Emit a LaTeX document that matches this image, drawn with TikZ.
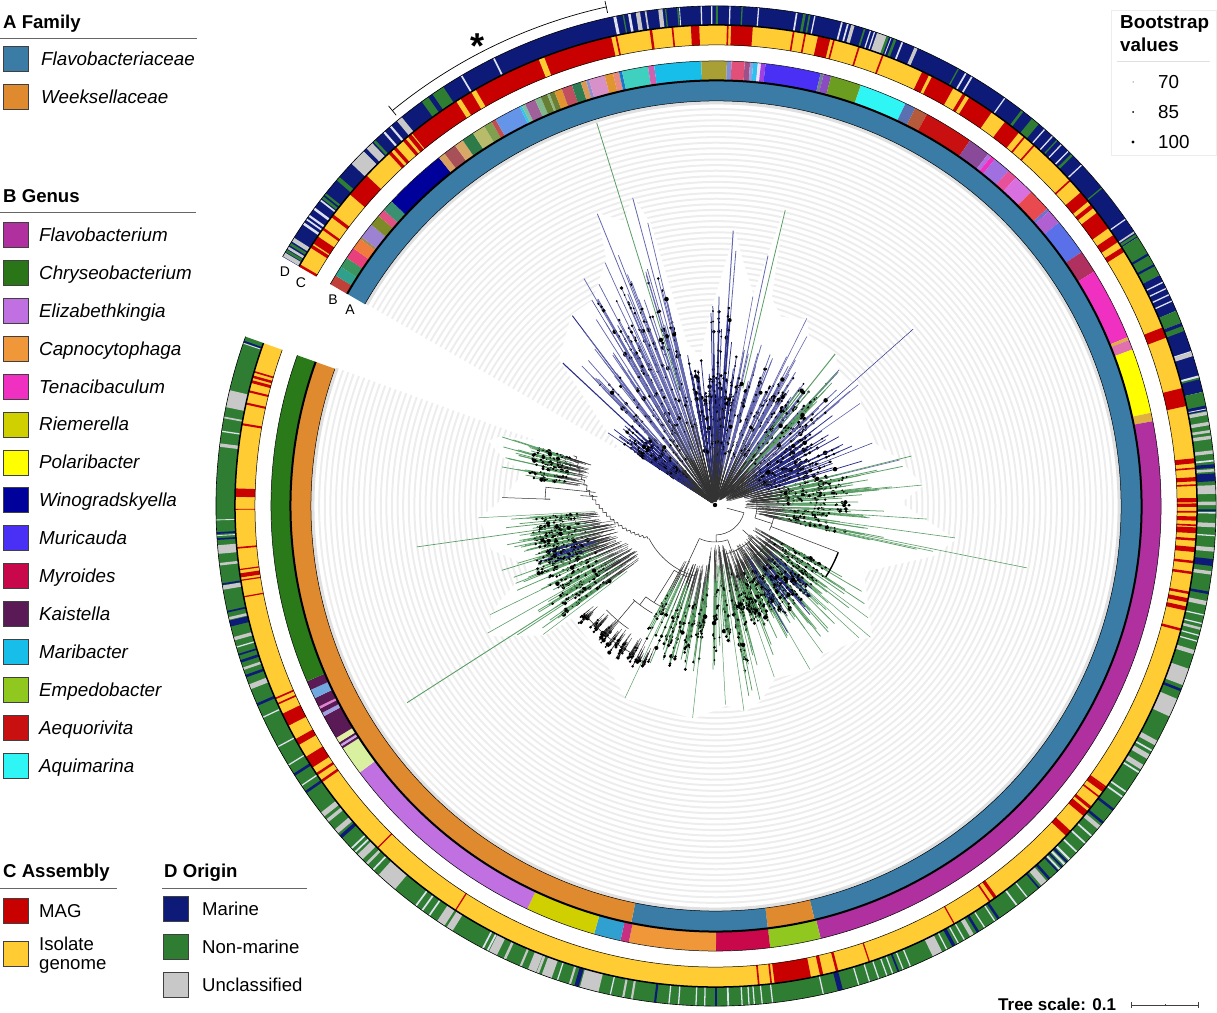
\documentclass[tikz,border=0pt]{standalone}
\usepackage{fontspec}
\setmainfont{Liberation Sans}
\definecolor{dN}{HTML}{0E1A78}
\definecolor{dG}{HTML}{2E7D32}
\definecolor{dL}{HTML}{C8C8C8}
\definecolor{dW}{HTML}{DDE2EE}
\definecolor{cY}{HTML}{FFCC33}
\definecolor{cR}{HTML}{C80000}
\definecolor{famB}{HTML}{3A7CA5}
\definecolor{famO}{HTML}{E08A30}
\definecolor{tnv}{HTML}{2A2E86}
\definecolor{tbl}{HTML}{6468AE}
\definecolor{tgr}{HTML}{5A9E66}
\definecolor{tbr}{HTML}{333333}
\tikzset{
 lab/.style={anchor=west,inner sep=0pt,text height=15pt,text depth=2pt,font=\fontsize{18.8}{20}\selectfont},
 ilab/.style={lab,font=\fontsize{18.8}{20}\selectfont\itshape},
 slab/.style={lab,font=\fontsize{18.6}{20}\selectfont},
 head/.style={anchor=west,inner sep=0pt,text height=15pt,text depth=2pt,font=\fontsize{18.6}{20}\selectfont\bfseries},
 swatch/.style={draw=black!75,line width=.6pt,minimum size=25pt,inner sep=0pt},
 hr/.style={draw=black!60,line width=.7pt},
 rlab/.style={inner sep=0pt,font=\fontsize{14}{16}\selectfont},
 trunk/.style={tbr,line width=.35pt},
 leaf/.style={line width=.75pt},
 branch/.style={tbr,line width=.55pt},
 guide/.style={color=black!7,line width=2pt},
}
\newcommand{\fan}[9]{%
 \pgfmathsetmacro\fk{max(3,round(#3/9))}%
 \foreach \i in {1,...,#3}{%
  \pgfmathsetmacro\fa{#1+(floor(rnd*\fk)+0.6*rnd)/\fk*(#2-#1)}%
  \pgfmathsetmacro\fb{#4+rnd*(#5-#4)}%
  \pgfmathsetmacro\ft{#6+rnd*rnd*(#7-#6)}%
  \pgfmathsetmacro\fm{\fb+(0.2+0.35*rnd)*(\ft-\fb)}%
  \pgfmathsetmacro\fd{min(\fb+(0.3+0.7*rnd)*(#9-\fb),\ft)}%
  \pgfmathsetmacro\fe{min(\fb+(0.3+0.7*rnd)*(#9-\fb),\ft)}%
  \pgfmathsetmacro\ff{min(\fb+(0.3+0.7*rnd)*(#9-\fb),\ft)}%
  \pgfmathsetmacro\fs{1+1.3*rnd}%
  \draw[trunk] (\fa:\fb) -- (\fa:\fm);
  \draw[#8,leaf] (\fa:\fm) -- (\fa:\ft);
  \fill[black] (\fa:\fd) circle[radius=\fs];
  \fill[black] (\fa:\fe) circle[radius=1.4];
  \fill[black] (\fa:\ff) circle[radius=1];
 }}
\newcommand{\parc}[3]{\draw[branch] (#2:#1) arc (#2:#3:#1);}
\newcommand{\prad}[3]{\draw[branch] (#1:#2) -- (#1:#3);}
\begin{document}
\begin{tikzpicture}[x=1pt,y=1pt]
\useasboundingbox (0,0) rectangle (1217,1012);
\begin{scope}[shift={(716,506)}]
% guide arcs
\foreach \r in {100,105.6,...,400}{\draw[guide] (150:\r) arc (150:-200:\r);}
\draw[color=black!12,line width=3pt] (150:403) arc (150:-200:403);
% white envelope hiding guides inside the tips
\fill[white] (0,0) -- (150:110) -- (146:130) -- (137:215) -- (127:240) -- (121:240) -- (114:270) -- (112:316) -- (108:300) -- (105:320) -- (103:290) -- (100:165) -- (96:150) -- (92:190) -- (88:240) -- (86:275) -- (84:250) -- (80:215) -- (77:305) -- (75:215) -- (71:200) -- (64:208) -- (61:192) -- (52:193) -- (46:180) -- (40:187) -- (35:177) -- (22:170) -- (14:190) -- (5.5:208) -- (1:185) -- (-4:212) -- (-8:242) -- (-13:223) -- (-24:162) -- (-36:190) -- (-40:204) -- (-43:196) -- (-54:183) -- (-60:190) -- (-71:182) -- (-77:200) -- (-82:208) -- (-87:200) -- (-96:214) -- (-115:213) -- (-127:189) -- (-142:183) -- (-143:215) -- (-150:261) -- (-154:250) -- (-156:238) -- (-162:195) -- (-169:229) -- (-177:237) -- (-182:213) -- (-190:195) -- (-193:220) -- (-196:237) -- (-198:226) -- (-200:190) -- cycle;
% ring A
\draw[famB,line width=20pt] (150.1:415) arc (150.1:-76.6:415);
\draw[famO,line width=20pt] (-76.6:415) arc (-76.6:-83:415);
\draw[famB,line width=20pt] (-83:415) arc (-83:-101.5:415);
\draw[famO,line width=20pt] (-101.5:415) arc (-101.5:-199.8:415);
% ring B
\foreach \c/\a/\b in {C0413A/150.1/148.8,2FA08C/148.8/147.5,3A9460/147.5/146.1,E8407A/146.1/144.6,F07B3C/144.6/143.1,A08A50/143.1/142.8,9C82D0/142.8/140.8,7E8A28/140.8/139.3,E05080/139.3/138.3,3A9070/138.3/136.8,00009A/136.8/128.5,D8A060/128.5/127.6,A85058/127.6/125.9,D8A868/125.9/124.7,2E7A48/124.7/123.1,B8BC6A/123.1/121.4,7FA04F/121.4/120.3,C05050/120.3/119.7,6495E8/119.7/116.2,30C8E8/116.2/115.9,80C0A8/115.9/115.4,A0609A/115.4/114,80B890/114/113.2,667F33/113.2/112.3,90B880/112.3/112,6B7F35/112/111.3,E09530/111.3/110.3,C05060/110.3/108.9,2E7D55/108.9/107.7,D89A55/107.7/107,9090D0/107/106.6,D890C8/106.6/104.5,E09530/104.5/103.4,E88A80/103.4/102.6,1878D0/102.6/102.2,40D0C0/102.2/98.8,D060B0/98.8/98,18BEEA/98/91.9,A8A035/91.9/88.6,8090D8/88.6/88,E05078/88/86.3,A05088/86.3/85.6,90A0E0/85.6/85.2,30C0F0/85.2/84.6,F0E0F8/84.6/84.2,A040E0/84.2/83.6,4A30F5/83.6/76.4,708090/76.4/76,8A4CC0/76/75,6B9E20/75/71,30F5F5/71/64.8,5A70B0/64.8/63.4,B55A3A/63.4/61.7,C81010/61.7/55.2,8A4A9A/55.2/52.3,B070E0/52.3/51.8,F030C0/51.8/51.2,A070E0/51.2/48.9,E8509A/48.9/47.6,D870E0/47.6/44.9,E84A50/44.9/41.9,7070D0/41.9/41.5,B060D0/41.5/39.6,5A70E8/39.6/34.8,B03060/34.8/31.8,F030C0/31.8/22.3,E0B040/22.3/21.9,E070B0/21.9/20.6,FFFF00/20.6/12.1,E0B040/12.1/11,B030A0/11/-76.4,90C820/-76.4/-83,C8084A/-83/-90,F0973A/-90/-101.3,C82F80/-101.3/-102.4,30A0D0/-102.4/-105.9,D0D000/-105.9/-115.1,C070E0/-115.1/-143.2,D8F0A0/-143.2/-147,5A1A55/-147/-147.3,C8A8E8/-147.3/-147.6,5A1A55/-147.6/-147.9,E0F0A0/-147.9/-148.6,5A1A55/-148.6/-151.8,A0A0E0/-151.8/-152.3,5A1A55/-152.3/-152.9,E080D0/-152.9/-153.2,5A1A55/-153.2/-154.4,70A8E0/-154.4/-155.6,5A1A55/-155.6/-156.8,2A7A1A/-156.8/-199.8}{%
 \definecolor{tc}{HTML}{\c}%
 \draw[tc,line width=19pt] (\a:435.5) arc (\a:\b:435.5);
}
% ring C
\draw[cY,line width=20pt] (150.1:471) arc (150.1:-199.8:471);
\foreach \a/\w in {150/.3,147.3/.4,146.4/1,144.8/.3,142.9/.4,138.1/3,132.7/.4,131.9/.4,130.4/.4,129.6/.5,115.9/26.6,102/.2,97.8/.3,95.2/.2,92.5/1,88.6/.2,86.9/2.6,80.7/.2,79.3/.2,77/1.5,75.8/.2,72.7/.2,69.7/.2,64.15/.9,61.85/2.9,58.9/.4,56.6/3.2,52/2.1,50.1/.2,48.6/.2,42.6/.2,40/1.4,38.55/.5,36.45/2.3,33.8/1,32.2/.6,21.15/1.3,13.1/2.2,5.4/.6,4.5/.2,3.2/.5,2.5/.2,.7/.5,.1/.4,-.7/.2,-1.5/.5,-2.3/.2,-2.9/.7,-4/.3,-5.2/.6,-6.7/.3,-8/.3,-10.4/.3,-11.3/.5,-12.3/.5,-14.9/.3,-35.8/.2,-36.2/.6,-37.2/.2,-39.4/1.5,-42.9/.8,-54.5/.4,-55.3/.2,-60.3/.15,-71.4/.15,-75.4/.3,-77.3/.4,-80.8/4.4,-83.4/.2,-84.9/.2,-122.8/.15,-134.7/.15,-145.1/.3,-146.1/.3,-147.8/1.5,-150.6/.8,-153.6/1.6,-155.7/.2,-156.4/.2,-169.1/.15,-171.1/.15,-171.7/.5,-172.4/.15,-175/.2,-179.6/.1,-181.6/1,-189.8/.25,-192.3/.25,-193.8/.25,-195/.35,-195.6/.3,-196.2/.2}{%
 \draw[cR,line width=20pt] ({\a+\w/2}:471) arc ({\a+\w/2}:{\a-\w/2}:471);
}
\foreach \a/\w in {122.4/.6,120.3/.6,111.3/.7,-39.2/.3}{%
 \draw[cY,line width=20pt] ({\a+\w/2}:471) arc ({\a+\w/2}:{\a-\w/2}:471);
}
% ring D
\draw[dN,line width=19pt] (150.1:490.5) arc (150.1:32.5:490.5);
\draw[dG,line width=19pt] (32.5:490.5) arc (32.5:27.5:490.5);
\draw[dN,line width=19pt] (27.5:490.5) arc (27.5:23:490.5);
\draw[dG,line width=19pt] (23:490.5) arc (23:21.5:490.5);
\draw[dN,line width=19pt] (21.5:490.5) arc (21.5:13.2:490.5);
\draw[dG,line width=19pt] (13.2:490.5) arc (13.2:-199.8:490.5);
\foreach \c/\a/\w in {dL/149.8/.5,dG/149.3/.3,dL/148.9/.3,dG/148.4/.3,dL/147.8/.5,dW/145.6/.3,dW/145/.2,dW/144.5/.25,dW/143.5/.3,dG/141.9/.3,dW/142.3/.2,dG/141.4/.25,dG/139.1/.5,dL/135.8/2,dN/134.6/.3,dL/133.9/.9,dG/133.1/.3,dW/131.6/.25,dW/130.6/.25,dL/129.3/.7,dG/125.6/.9,dG/123.8/1.5,dW/120.6/.2,dW/116.4/.2,dW/101.7/.35,dG/100.7/.15,dW/100/.3,dL/99/.5,dL/98.1/.2,dL/96.4/.5,dG/95.8/.15,dG/94.4/.15,dW/94.2/.1,dW/91.7/.15,dW/90.5/.15,dG/89.9/.25,dW/88.4/.15,dG/87/.15,dW/85.1/.15,dW/80.7/.2,dG/79.8/.3,dG/79.2/.2,dW/78.6/.15,dW/75.4/.2,dW/74.7/.2,dL/74.1/.4,dG/72.7/.2,dW/72/.15,dW/71.5/.15,dL/70.6/1.2,dG/69.9/.3,dW/69.5/.1,dG/69/.3,dW/68.1/.2,dL/66.4/.4,dG/61/.15,dW/60/.2,dW/59.2/.2,dW/54.7/.15,dG/52.2/.3,dG/50.3/1,dW/48.9/.15,dW/47.7/.15,dG/47/.15,dW/46.3/.15,dW/45.2/.15,dG/44.6/.3,dW/43/.15,dG/39.5/.15,dW/35/.15,dL/33.2/.2,dG/32.8/.3,dN/30.2/.25,dN/28.8/.25,dW/26.6/.15,dW/25.8/.15,dW/25/.15,dW/24.2/.15,dG/20.8/.6,dW/18/.15,dL/17.7/.5,dW/15/.3,dG/14.8/.2,dN/11.3/.6,dW/11.2/.1,dL/10.7/.4,dL/9.5/.4,dL/8.6/.3,dL/7.9/.4,dL/6.2/.4,dW/5.2/.2,dN/4.6/.4,dL/4.1/.3,dN/3.3/.9,dL/1.9/1,dL/.3/.4,dN/-.5/.2,dW/-.8/.15,dL/-2.2/.5,dW/-3.4/.15,dL/-5/.5,dN/-6.5/.8,dL/-7.7/.4,dN/-10/.3,dL/-11.2/.5,dW/-12.6/.15,dW/-13.6/.15,dL/-14.2/.3,dW/-15/.15,dW/-15.7/.15,dL/-17/.5,dL/-20/2,dN/-21.6/.3,dL/-23.8/2.2,dL/-28.3/.6,dW/-29.3/.2,dL/-30.1/.6,dL/-31.5/.6,dW/-32.2/.2,dW/-34.9/.2,dW/-35.6/.2,dN/-37.4/.3,dN/-39.3/.3,dL/-40/.5,dW/-41.3/.2,dW/-42.4/.2,dW/-43.8/.2,dW/-45/.25,dN/-45.4/.25,dW/-45.8/.25,dN/-46.2/.2,dW/-46.6/.2,dN/-46.9/.2,dN/-48.2/.3,dL/-49/.8,dN/-49.8/.2,dW/-51.5/.15,dW/-53/.2,dN/-55.6/.3,dW/-56.1/.15,dW/-57.5/.15,dN/-58.4/.3,dL/-59.2/.5,dW/-60.2/.15,dW/-61/.15,dN/-61.6/.4,dW/-62.5/.15,dL/-63.7/1.2,dW/-67.1/.15,dW/-68/.15,dN/-68.6/.2,dW/-69.3/.15,dW/-70/.15,dW/-71/.15,dW/-72.1/.15,dW/-73.4/.15,dN/-75.6/.6,dW/-77.6/.15,dW/-83.5/.15,dW/-84.7/.15,dW/-85.6/.15,dW/-86.2/.15,dW/-87/.15,dW/-88.6/.2,dN/-90/.2,dW/-91.3/.15,dW/-92.3/.15,dW/-94.3/.15,dW/-95.4/.15,dN/-97/.25,dL/-99.7/.25,dL/-100.7/.25,dW/-102.2/.15,dL/-104.7/2.2,dN/-106.2/.5,dL/-107/.25,dL/-109.8/1.2,dW/-108.5/.15,dL/-110.9/.3,dL/-111.6/1,dL/-113/.25,dL/-115/.3,dL/-116.5/1,dW/-117.2/.2,dW/-117.8/.2,dL/-122.2/.8,dL/-123.4/1,dW/-125/.2,dW/-126/.2,dW/-126.9/.2,dL/-131.2/2.5,dW/-133.3/.2,dL/-134.3/.3,dL/-135.4/.8,dW/-136.2/.2,dW/-136.8/.2,dN/-138.6/.4,dL/-139.4/.6,dL/-141/.4,dL/-141.9/.6,dN/-145.1/.3,dW/-146/.15,dN/-147.5/.3,dW/-148.8/.15,dW/-151.2/.15,dW/-155/.15,dN/-156.6/.3,dL/-158.8/.6,dN/-160.1/.3,dL/-161/.3,dN/-161.9/.3,dN/-162.7/.2,dW/-163.6/.15,dL/-164.6/.4,dN/-166.4/.7,dL/-167/.3,dN/-167.8/.2,dL/-170.6/.5,dN/-171/.2,dL/-173.3/.3,dL/-175/1,dN/-176.2/.2,dW/-176.6/.1,dN/-176.9/.2,dW/-178.4/.1,dL/-187/.4,dW/-188.6/.15,dL/-190.2/.2,dL/-192.4/2,dN/-199.2/.2,dW/-199/.1}{%
 \draw[\c,line width=19pt] ({\a+\w/2}:490.5) arc ({\a+\w/2}:{\a-\w/2}:490.5);
}
% ring outlines
\draw[black,line width=.5pt] (150.1:405) arc (150.1:-199.8:405);
\draw[black,line width=2pt] (150.1:425.5) arc (150.1:-199.8:425.5);
\draw[black,line width=.5pt] (150.1:445) arc (150.1:-199.8:445);
\draw[black,line width=.5pt] (150.1:461) arc (150.1:-199.8:461);
\draw[black,line width=1.5pt] (150.1:481) arc (150.1:-199.8:481);
\draw[black,line width=.6pt] (150.1:500) arc (150.1:-199.8:500);
% bracket
\draw[black,line width=.7pt] (102.4:511) arc (102.4:129.3:511);
\draw[black,line width=.7pt] (102.4:505) -- (102.4:517);
\draw[black,line width=.7pt] (129.3:505) -- (129.3:517);
% tree
\begin{scope}[shift={(-1,1)}]
\pgfmathsetseed{4242}
% hand-placed long leaves
\draw[tgr,line width=.8pt] (107.2:120) -- (107.2:400);
\draw[tbl,line width=.8pt] (112:60) -- (112:314);
\draw[tbl,line width=.8pt] (105:60) -- (105:318);
\draw[tbl,line width=.7pt] (103.4:60) -- (103.4:290);
\draw[tbl,line width=.7pt] (114.4:60) -- (114.4:266);
\draw[tnv,line width=.5pt] (121:20) -- (121:239);
\draw[tnv,line width=.9pt] (127:20) -- (127:237);
\draw[tnv,line width=1.1pt] (137:20) -- (137:208);
\draw[tnv,line width=.6pt] (146:20) -- (146:129);
\draw[tbl,line width=1pt] (86.2:60) -- (86.2:275);
\draw[tbl,line width=.8pt] (85.3:60) -- (85.3:255);
\draw[tgr,line width=.8pt] (76.6:120) -- (76.6:303);
\draw[tbl,line width=.8pt] (78:60) -- (78:255);
\draw[tbl,line width=.6pt] (79.7:60) -- (79.7:212);
\draw[tbl,line width=.6pt] (63.8:30) -- (63.8:208);
\draw[tbl,line width=.6pt] (61.4:30) -- (61.4:192);
\draw[tgr,line width=1pt] (51.5:100) -- (51.5:193);
\draw[tnv,line width=.5pt] (41.6:30) -- (41.6:265);
\draw[tbl,line width=.6pt] (40:30) -- (40:187);
\draw[tbl,line width=.6pt] (35:30) -- (35:177);
\draw[tnv,line width=.5pt] (21.5:30) -- (21.5:169);
\draw[tbl,line width=.6pt] (13.7:30) -- (13.7:190);
\draw[tgr,line width=.6pt] (5.5:60) -- (5.5:208);
\draw[tgr,line width=.6pt] (-3.8:60) -- (-3.8:212);
\draw[tgr,line width=.6pt] (-7.8:60) -- (-7.8:242);
\draw[tgr,line width=.6pt] (-11.4:100) -- (-11.4:318);
\draw[tgr,line width=.6pt] (-12:60) -- (-12:223);
\draw[tgr,line width=.5pt] (-36.4:60) -- (-36.4:190);
\draw[tgr,line width=.5pt] (-40.4:60) -- (-40.4:204);
\draw[tgr,line width=.5pt] (-42.7:60) -- (-42.7:196);
\draw[tgr,line width=.5pt] (-54:60) -- (-54:183);
\draw[tgr,line width=.5pt] (-60:60) -- (-60:190);
\draw[tgr,line width=.5pt] (-71:60) -- (-71:182);
\draw[tgr,line width=.5pt] (-77:60) -- (-77:200);
\draw[tgr,line width=.5pt] (-82:60) -- (-82:208);
\draw[tgr,line width=.5pt] (-87:60) -- (-87:200);
\draw[tgr,line width=.5pt] (-96:60) -- (-96:214);
\draw[tgr,line width=.5pt] (-115:80) -- (-115:213);
\draw[tgr,line width=.9pt] (-147.3:110) -- (-147.3:366);
\draw[tgr,line width=.5pt] (-143:110) -- (-143:215);
\draw[tgr,line width=.6pt] (-150.6:110) -- (-150.6:261);
\draw[tgr,line width=.6pt] (-154:110) -- (-154:250);
\draw[tgr,line width=.7pt] (-172:130) -- (-172:301);
\draw[tgr,line width=.5pt] (-176.9:120) -- (-176.9:237);
\draw[tbr,line width=.5pt] (178:165) -- (178:213);
% fans
\fan{147}{132}{75}{3}{8}{85}{135}{tnv}{120}
\fan{134}{120}{25}{3}{8}{150}{235}{tbl}{170}
\fan{121}{102}{70}{3}{8}{170}{290}{tbl}{250}
\fan{101}{78}{85}{3}{8}{100}{165}{tnv}{160}
\fan{92}{84}{14}{3}{8}{165}{240}{tnv}{230}
\fan{80}{66}{30}{3}{8}{115}{175}{tbl}{150}
\fan{66}{38}{75}{6}{15}{115}{190}{tbl}{165}
\fan{55}{44}{12}{6}{15}{140}{190}{tgr}{150}
\fan{38}{15}{75}{12}{28}{90}{165}{tnv}{130}
\fan{15}{-4}{65}{30}{50}{100}{205}{tgr}{135}
\fan{-4}{-14}{30}{40}{55}{100}{220}{tgr}{135}
\fan{-29}{-78}{130}{45}{70}{110}{185}{tgr}{130}
\fan{-35}{-78}{70}{60}{75}{100}{130}{tgr}{130}
\fan{-40}{-65}{25}{45}{70}{110}{150}{tnv}{130}
\fan{-78}{-98}{40}{40}{60}{110}{205}{tgr}{170}
\fan{-96}{-120}{55}{60}{80}{120}{210}{tgr}{175}
\fan{-113}{-121}{18}{150}{165}{170}{185}{tbr}{185}
\fan{-122}{-129}{14}{150}{165}{170}{188}{tbr}{188}
\fan{-129}{-142}{24}{150}{165}{170}{182}{tbr}{182}
\fan{-144}{-158}{55}{90}{115}{160}{245}{tgr}{190}
\fan{-158}{-172}{80}{100}{125}{170}{225}{tgr}{190}
\fan{-160}{-166}{15}{100}{125}{165}{190}{tnv}{185}
\fan{-172}{-177}{18}{115}{125}{170}{220}{tgr}{180}
\fan{-188}{-199}{55}{130}{150}{170}{235}{tgr}{190}
% ladder of inner branches
\foreach \i in {0,...,21}{%
 \pgfmathsetmacro\aa{-153-\i*2.1}%
 \pgfmathsetmacro\ab{-153-(\i+1)*2.1}%
 \pgfmathsetmacro\ra{75+\i*3.4}%
 \pgfmathsetmacro\rb{75+(\i+1)*3.4}%
 \draw[branch] (\aa:\ra) arc (\aa:\ab:\ra) -- (\ab:\rb);
}
\parc{74}{-153}{-106}
\parc{30}{-15}{-88}
\parc{37}{-70}{-115}
\prad{-88}{30}{37}
\prad{-115}{37}{74}
\prad{-70}{37}{50}
\prad{-15}{12}{30}
\parc{42}{15}{-18}
\prad{-5}{30}{42}
\prad{15}{42}{50}
\prad{-18}{42}{60}
\parc{60}{-10}{-25}
\prad{-21}{60}{132}
\draw[black,line width=1.4pt] (-21:132) arc (-21:-33:132);
\parc{50}{-42}{-78}
\prad{-42}{37}{50}
\prad{-78}{50}{75}
\parc{65}{-30}{-60}
\parc{77}{-110}{-122}
\prad{-122}{77}{115}
\parc{115}{-115}{-127}
\prad{-127}{115}{125}
\parc{125}{-120}{-131}
\prad{-130}{125}{151}
\parc{151}{-125}{-136}
\prad{-130}{151}{170}
\parc{170}{-118}{-140}
% empty box in the ladder
\draw[branch] (174:120) -- (174:170) arc (174:178:170) -- (178:165) ;
\draw[branch] (176:118) -- (176:135);
\fill[black] (0,0) circle[radius=2.2];
\end{scope}
\end{scope}
% ring labels
\node[rlab] (lA) at (350,702) {A};
\node[rlab] (lB) at (333,712) {B};
\node[rlab] (lC) at (301,729) {C};
\node[rlab] (lD) at (285,740) {D};
\node[inner sep=0pt,font=\fontsize{36}{36}\selectfont\bfseries] (star) at (477,966) {*};
% legend A
\node[head] (hA) at (3,990) {A Family};
\draw[hr] (0,974) -- (197,974);
\node[swatch,fill=famB] (sA1) at (15.5,953) {};
\node[swatch,fill=famO] (sA2) at (15.5,915) {};
\node[ilab] (tA1) at (41,953) {Flavobacteriaceae};
\node[ilab] (tA2) at (41,915) {Weeksellaceae};
% legend B
\node[head] (hB) at (3,816) {B Genus};
\draw[hr] (0,800) -- (196,800);
\foreach \n/\c [count=\i] in {Flavobacterium/B030A0,Chryseobacterium/2A7518,Elizabethkingia/C070E0,Capnocytophaga/F0973A,Tenacibaculum/F030C0,Riemerella/D0D000,Polaribacter/FFFF00,Winogradskyella/00009A,Muricauda/4A30F5,Myroides/C8084A,Kaistella/5A1A55,Maribacter/18BEEA,Empedobacter/90C820,Aequorivita/C81010,Aquimarina/30F5F5}{%
 \definecolor{lc}{HTML}{\c}%
 \pgfmathsetmacro\yy{1012-235-(\i-1)*37.9}%
 \node[swatch,fill=lc] (sB\i) at (15.5,\yy) {};
 \node[ilab] (tB\i) at (39,\yy) {\n};
}
% legend C
\node[head] (hC) at (3,141) {C Assembly};
\draw[hr] (0,124) -- (117,124);
\node[swatch,fill=cR] (sC1) at (15.5,101) {};
\node[swatch,fill=cY] (sC2) at (15.5,58) {};
\node[slab] (tC1) at (39,101) {MAG};
\node[anchor=west,inner sep=0pt,align=left,font=\fontsize{18.6}{19}\selectfont] (tC2) at (39,57) {Isolate\\genome};
% legend D
\node[head] (hD) at (164,141) {D Origin};
\draw[hr] (162,124) -- (307,124);
\node[swatch,fill=dN] (sD1) at (176,103) {};
\node[swatch,fill=dG] (sD2) at (176,65) {};
\node[swatch,fill=dL] (sD3) at (176,27) {};
\node[slab] (tD1) at (202,103) {Marine};
\node[slab] (tD2) at (202,65) {Non-marine};
\node[slab] (tD3) at (202,27) {Unclassified};
% bootstrap
\draw[draw=black!7,line width=.7pt] (1111,857) rectangle (1216,1002);
\node[anchor=west,inner sep=0pt,align=left,font=\fontsize{18.8}{23}\selectfont\bfseries] (hBo) at (1120,978) {Bootstrap\\values};
\draw[draw=black!12,line width=.7pt] (1117,951) -- (1210,951);
\fill[black] (1133,930) circle[radius=.5];
\fill[black] (1133,900) circle[radius=1];
\fill[black] (1133,870) circle[radius=1.6];
\node[lab] (b70) at (1158,930) {70};
\node[lab] (b85) at (1158,900) {85};
\node[lab] (b100) at (1158,870) {100};
% tree scale
\node[inner sep=0pt,anchor=west,font=\fontsize{17}{18}\selectfont\bfseries] (ts) at (998,8) {Tree scale: 0.1};
\draw[black!75,line width=.8pt] (1131,7) -- (1198,7);
\draw[black!75,line width=.8pt] (1131,4) -- (1131,10);
\draw[black!75,line width=.8pt] (1198,4) -- (1198,10);
\draw[black!75,line width=.6pt] (1165,6) -- (1165,8.5);
\end{tikzpicture}
\end{document}
